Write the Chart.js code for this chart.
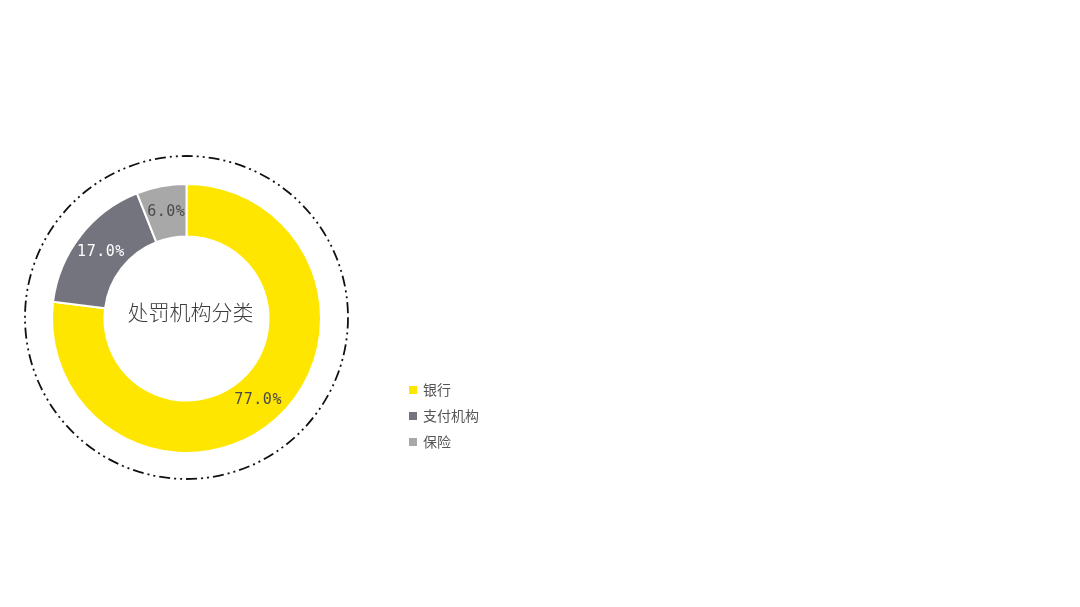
<!DOCTYPE html>
<html>
<head>
<meta charset="utf-8">
<script src="https://cdn.jsdelivr.net/npm/chart.js@4"></script>
<style>
  html, body { margin: 0; padding: 0; background: #fff; }
  #wrap { width: 1080px; height: 607px; position: relative; }
</style>
</head>
<body>
<div id="wrap"><canvas id="pie"></canvas></div>
<script>
// data
const categories = ["银行", "支付机构", "保险"];
const shares = [77.0, 17.0, 6.0];
const sliceColors = ["#FFE600", "#74747F", "#A8A8A8"];
const labelColors = ["#4a4a4a", "#ffffff", "#4a4a4a"];
const centerTitle = "处罚机构分类";

// dash-dot-dot ring + centre title
const decorPlugin = {
  id: "decor",
  beforeDatasetsDraw(chart) {
    const arc = chart.getDatasetMeta(0).data[0];
    if (!arc) return;
    const ctx = chart.ctx;
    ctx.save();
    ctx.beginPath();
    ctx.arc(arc.x, arc.y - 1, arc.outerRadius + 27, 0, Math.PI * 2);
    ctx.setLineDash([11, 4, 2, 4, 2, 4]);
    ctx.lineWidth = 1.8;
    ctx.strokeStyle = "#111";
    ctx.stroke();
    ctx.restore();
  },
  afterDatasetsDraw(chart) {
    const meta = chart.getDatasetMeta(0);
    const ctx = chart.ctx;
    ctx.save();
    // slice labels
    ctx.font = "15px 'DejaVu Sans Mono'";
    ctx.letterSpacing = "0.5px";
    ctx.textAlign = "center";
    ctx.textBaseline = "middle";
    meta.data.forEach((arc, i) => {
      const p = arc.tooltipPosition();
      ctx.fillStyle = labelColors[i];
      ctx.fillText(shares[i].toFixed(1) + "%", p.x, p.y);
    });
    ctx.letterSpacing = "0px";
    // centre text
    const a = meta.data[0];
    ctx.font = "300 21px 'Noto Sans CJK SC'";
    ctx.fillStyle = "#3c3c3c";
    ctx.fillText(centerTitle, a.x + 4, a.y - 6);
    // legend
    ctx.font = "14px 'Noto Sans CJK SC'";
    ctx.textAlign = "left";
    categories.forEach((c, i) => {
      const y = 390 + i * 26;
      ctx.fillStyle = sliceColors[i];
      ctx.fillRect(409, y - 4, 8, 8);
      ctx.fillStyle = "#555";
      ctx.fillText(c, 423, y);
    });
    ctx.restore();
  }
};

new Chart(document.getElementById("pie"), {
  type: "doughnut",
  data: {
    labels: categories,
    datasets: [{
      data: shares,
      backgroundColor: sliceColors,
      borderColor: "#ffffff",
      borderWidth: 2
    }]
  },
  options: {
    responsive: true,
    maintainAspectRatio: false,
    animation: false,
    cutout: "61%",
    layout: { padding: { left: 51, right: 758, top: 183, bottom: 153 } },
    plugins: {
      legend: { display: false },
      tooltip: { enabled: false }
    }
  },
  plugins: [decorPlugin]
});
</script>
</body>
</html>
